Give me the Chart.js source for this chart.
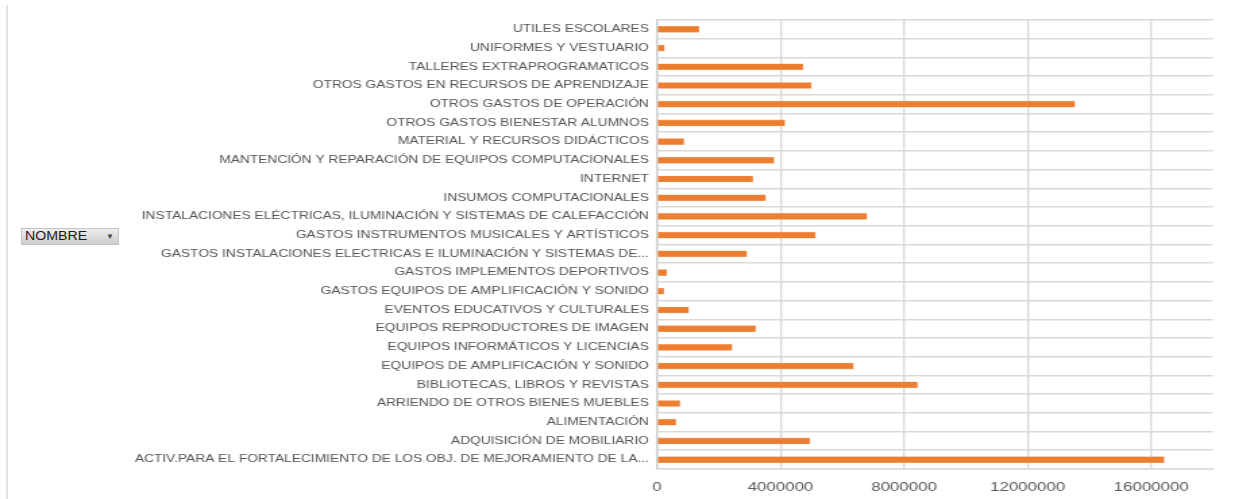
<!DOCTYPE html>
<html><head><meta charset="utf-8">
<script src="https://cdn.jsdelivr.net/npm/chart.js@4/dist/chart.umd.min.js"></script>
<style>
html,body{margin:0;padding:0;background:#fff;}
#wrap{position:relative;width:1258px;height:499px;overflow:hidden;background:#fff;}
#frame{position:absolute;left:6px;top:5px;width:2px;height:494px;background:#e2e2e2;}
#c{position:absolute;left:0;top:0;}
#btn{position:absolute;left:21px;top:228px;width:98px;height:17px;background:linear-gradient(#eeeeee,#cdcdcd);border:1px solid #c4c4c4;box-sizing:border-box;font:12px 'Liberation Sans',Arial,sans-serif;color:#1a1a1a;line-height:15px;white-space:nowrap;}
#btn .t{position:absolute;left:3px;top:0;display:inline-block;transform:scaleX(1.18);transform-origin:left center;}
#btn .a{position:absolute;left:84px;top:0;font-size:8px;color:#444;}
</style></head>
<body><div id="wrap"><div id="frame"></div><canvas id="c" width="932" height="499" style="width:1258px;height:499px"></canvas><div id="btn"><span class="t">NOMBRE</span><span class="a">▼</span></div></div>
<script>
const categories = [
  "UTILES ESCOLARES",
  "UNIFORMES Y VESTUARIO",
  "TALLERES EXTRAPROGRAMATICOS",
  "OTROS GASTOS EN RECURSOS DE APRENDIZAJE",
  "OTROS GASTOS DE OPERACIÓN",
  "OTROS GASTOS BIENESTAR ALUMNOS",
  "MATERIAL Y RECURSOS DIDÁCTICOS",
  "MANTENCIÓN Y REPARACIÓN DE EQUIPOS COMPUTACIONALES",
  "INTERNET",
  "INSUMOS COMPUTACIONALES",
  "INSTALACIONES ELÉCTRICAS, ILUMINACIÓN Y SISTEMAS DE CALEFACCIÓN",
  "GASTOS INSTRUMENTOS MUSICALES Y ARTÍSTICOS",
  "GASTOS INSTALACIONES ELECTRICAS E ILUMINACIÓN Y SISTEMAS DE...",
  "GASTOS IMPLEMENTOS DEPORTIVOS",
  "GASTOS EQUIPOS DE AMPLIFICACIÓN Y SONIDO",
  "EVENTOS EDUCATIVOS Y CULTURALES",
  "EQUIPOS REPRODUCTORES DE IMAGEN",
  "EQUIPOS INFORMÁTICOS Y LICENCIAS",
  "EQUIPOS DE AMPLIFICACIÓN Y SONIDO",
  "BIBLIOTECAS, LIBROS Y REVISTAS",
  "ARRIENDO DE OTROS BIENES MUEBLES",
  "ALIMENTACIÓN",
  "ADQUISICIÓN DE MOBILIARIO",
  "ACTIV.PARA EL FORTALECIMIENTO DE LOS OBJ. DE MEJORAMIENTO DE LA..."
];
const montos = [
  1360000, 240000, 4730000, 5000000, 13530000, 4140000, 870000, 3790000,
  3100000, 3520000, 6800000, 5130000, 2910000, 320000, 220000, 1030000,
  3190000, 2430000, 6360000, 8430000, 740000, 610000, 4950000, 16420000
];
const xTickValues = [0, 4000000, 8000000, 12000000, 16000000];
const xMax = 18000000;

new Chart(document.getElementById('c'), {
  type: 'bar',
  data: {
    labels: categories,
    datasets: [{
      data: montos,
      backgroundColor: '#ED7D31',
      borderColor: 'rgba(244,160,100,0.9)',
      borderWidth: 0.6,
      barThickness: 6
    }]
  },
  options: {
    indexAxis: 'y',
    responsive: false,
    animation: false,
    devicePixelRatio: 1,
    layout: { padding: { top: 20, right: 33.4, bottom: 0, left: 0 } },
    plugins: { legend: { display: false }, tooltip: { enabled: false } },
    scales: {
      x: {
        min: 0, max: xMax,
        afterBuildTicks: s => { s.ticks = xTickValues.map(v => ({ value: v })); },
        afterFit: s => { s.height = 30; },
        grid: { color: '#d9d9d9', lineWidth: 1.4, drawTicks: false },
        border: { color: '#d9d9d9', width: 1.4 },
        ticks: {
          padding: 11,
          color: '#595959',
          font: { family: 'Liberation Sans', size: 12.5 },
          callback: v => String(v),
          maxRotation: 0
        }
      },
      y: {
        afterFit: s => { s.width = 486.7; },
        grid: { color: '#d9d9d9', lineWidth: 1.6, drawTicks: false, offset: true },
        border: { color: '#d0d0d0', width: 1.4 },
        ticks: {
          padding: 6,
          color: '#555555',
          autoSkip: false,
          font: { family: 'Liberation Sans', size: 10.2 }
        }
      }
    }
  }
});
</script>
</body></html>
